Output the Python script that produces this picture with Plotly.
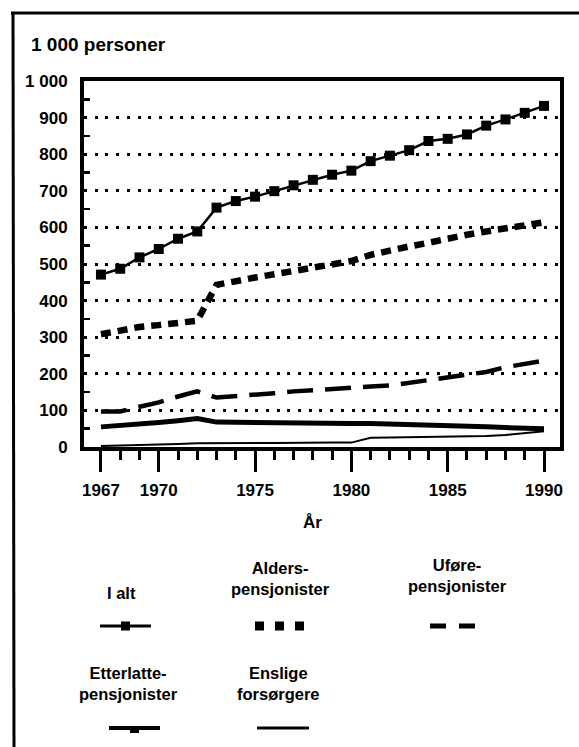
import plotly.graph_objects as go

years = list(range(1967, 1991))
i_alt = [471, 487, 518, 541, 569, 589, 654, 672, 684, 699, 715, 730,
         744, 755, 781, 796, 811, 836, 842, 854, 878, 895, 913, 932]
alders = [308, 318, 328, 333, 338, 345, 443, 455, 463, 472, 481, 490,
          498, 508, 525, 538, 548, 558, 570, 580, 589, 598, 605, 614]
ufore = [97, 97, 110, 122, 138, 152, 135, 138, 143, 147, 152, 156,
         160, 162, 165, 168, 175, 185, 192, 196, 205, 218, 227, 236]
etterlatte = [55, 58, 62, 67, 72, 78, 68, 67, 67, 66, 66, 65,
              65, 64, 64, 63, 62, 60, 58, 57, 55, 53, 51, 50]
enslige = [3, 4, 5, 6, 8, 10, 11, 11, 11, 11, 12, 12,
           12, 12, 25, 26, 27, 28, 29, 29, 30, 33, 37, 43]

x_ticks = [1967, 1970, 1975, 1980, 1985, 1990]
y_ticks = list(range(0, 1001, 100))
y_ticktext = [str(v) if v < 1000 else "1 000" for v in y_ticks]
y_minor = list(range(50, 1000, 100))

FONT = "Liberation Sans, Arial, Helvetica, sans-serif"
W, H = 579, 747
L, R, T, B = 84, 560, 81, 447  # plot area in px

fig = go.Figure()
fig.add_trace(go.Scatter(x=years, y=enslige, mode="lines",
                         line=dict(color="black", width=2), name="Enslige forsørgere"))
fig.add_trace(go.Scatter(x=years, y=etterlatte, mode="lines",
                         line=dict(color="black", width=5), name="Etterlatte-pensjonister"))
fig.add_trace(go.Scatter(x=years, y=ufore, mode="lines",
                         line=dict(color="black", width=4.5, dash="26px,12px"),
                         name="Uførepensjonister"))
fig.add_trace(go.Scatter(x=years, y=alders, mode="lines",
                         line=dict(color="black", width=6.5, dash="10px,7px"),
                         name="Alderspensjonister"))
fig.add_trace(go.Scatter(x=years, y=i_alt, mode="lines+markers",
                         line=dict(color="black", width=2.5),
                         marker=dict(symbol="square", size=10, color="black"),
                         name="I alt"))

fig.update_xaxes(
    range=[1966.12, 1990.83], tickmode="array", tickvals=x_ticks,
    ticks="outside", ticklen=21, tickwidth=3, tickcolor="black",
    showline=True, linewidth=4, linecolor="black", mirror=True,
    showgrid=False, zeroline=False, ticklabelstandoff=4,
    tickfont=dict(family=FONT, size=17, color="black", weight="bold"),
    minor=dict(tickmode="array", tickvals=years, ticks="outside",
               ticklen=9, tickwidth=3, tickcolor="black", showgrid=False),
)
fig.update_yaxes(
    range=[0, 1000], tickmode="array", tickvals=y_ticks, ticktext=y_ticktext,
    ticks="", showline=True, linewidth=4, linecolor="black", mirror=True,
    showgrid=True, gridcolor="black", gridwidth=3, griddash="3px,7.7px",
    zeroline=False, ticklabelstandoff=9,
    tickfont=dict(family=FONT, size=17, color="black", weight="bold"),
    minor=dict(tickmode="array", tickvals=y_minor, ticks="inside",
               ticklen=6, tickwidth=2.5, tickcolor="black", showgrid=False),
)


def px_x(px):
    return (px - L) / (R - L)


def px_y(py):
    return (B - py) / (B - T)


annotations = [
    dict(text="1 000 personer", x=px_x(29), y=px_y(45), xanchor="left", yanchor="middle",
         font=dict(size=19, weight="bold")),
    dict(text="År", x=px_x(312), y=px_y(522), xanchor="center", yanchor="middle",
         font=dict(size=17, weight="bold")),
    dict(text="I alt", x=px_x(121), y=px_y(593), xanchor="center", yanchor="middle"),
    dict(text="Alders-<br>pensjonister", x=px_x(280), y=px_y(578), xanchor="center",
         yanchor="middle"),
    dict(text="Uføre-<br>pensjonister", x=px_x(457), y=px_y(575), xanchor="center",
         yanchor="middle"),
    dict(text="Etterlatte-<br>pensjonister", x=px_x(128), y=px_y(683), xanchor="center",
         yanchor="middle"),
    dict(text="Enslige<br>forsørgere", x=px_x(278), y=px_y(683), xanchor="center",
         yanchor="middle"),
]
for a in annotations:
    a.update(xref="paper", yref="paper", showarrow=False, align="center")
    f = dict(family=FONT, size=16.5, color="black", weight="bold")
    f.update(a.get("font", {}))
    a["font"] = f

shapes = []


def seg(x0, y0, x1, y1, width, dash="solid"):
    shapes.append(dict(type="line", xref="paper", yref="paper",
                       x0=px_x(x0), y0=px_y(y0), x1=px_x(x1), y1=px_y(y1),
                       line=dict(color="black", width=width, dash=dash)))


def box(x0, y0, x1, y1):
    shapes.append(dict(type="rect", xref="paper", yref="paper",
                       x0=px_x(x0), y0=px_y(y0), x1=px_x(x1), y1=px_y(y1),
                       line=dict(width=0), fillcolor="black"))


# outer frame
seg(11, 13, 579, 13, 3)
seg(13, 12, 14, 747, 3)
# legend samples
seg(100, 626, 151, 626, 3)
box(121, 621.5, 130, 630.5)
seg(255, 626, 305, 626, 9, "9px,11px")
seg(430, 626, 481, 626, 5, "16px,13px")
seg(109, 728, 160, 728, 4)
box(130, 728, 139, 733)
seg(257, 728, 309, 728, 3)

fig.update_layout(
    width=W, height=H,
    margin=dict(l=L, r=W - R, t=T, b=H - B, pad=0),
    paper_bgcolor="white", plot_bgcolor="white",
    showlegend=False, hovermode=False,
    annotations=annotations, shapes=shapes,
    font=dict(family=FONT, color="black"),
)

fig.write_html("out.html", config={"displayModeBar": False, "staticPlot": True},
               post_script="document.body.style.margin='0';document.body.style.overflow='hidden';")
